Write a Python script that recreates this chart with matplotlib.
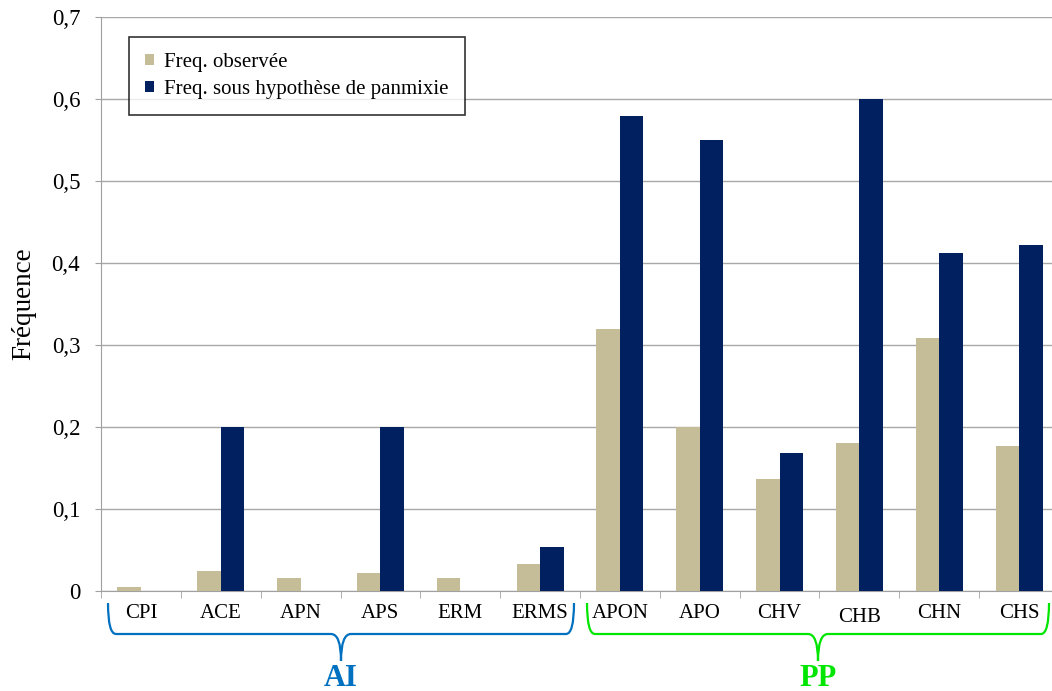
import matplotlib.pyplot as plt
import numpy as np
from matplotlib.path import Path
from matplotlib.patches import PathPatch

plt.rcParams['font.family'] = ['Liberation Serif', 'DejaVu Serif']

# donnees
categories = ["CPI", "ACE", "APN", "APS", "ERM", "ERMS",
              "APON", "APO", "CHV", "CHB", "CHN", "CHS"]
freq_obs = [0.005, 0.024, 0.016, 0.022, 0.016, 0.033,
            0.320, 0.200, 0.137, 0.180, 0.309, 0.177]
freq_panmixie = [0.0, 0.200, 0.0, 0.200, 0.0, 0.054,
                 0.579, 0.550, 0.168, 0.600, 0.412, 0.422]
y_ticks = [0, 0.1, 0.2, 0.3, 0.4, 0.5, 0.6, 0.7]
y_labels = ["0", "0,1", "0,2", "0,3", "0,4", "0,5", "0,6", "0,7"]
groups = [("AI", 0, 5, "#0070C0"), ("PP", 6, 11, "#00E600")]

W, H = 1052, 691
fig = plt.figure(figsize=(W / 100, H / 100), dpi=100)
# la zone de trace depasse a droite de l'image (comme dans l'original)
ax = fig.add_axes([101 / W, 1 - 591 / H, 958 / W, 574 / H])

x = np.arange(len(categories))
w = 0.295
ax.bar(x - w / 2, freq_obs, w, color="#C4BD97", label="Freq. observée", zorder=3)
ax.bar(x + w / 2, freq_panmixie, w, color="#002060",
       label="Freq. sous hypothèse de panmixie", zorder=3)

ax.set_xlim(-0.5, len(categories) - 0.5)
ax.set_ylim(0, 0.7)
ax.set_yticks(y_ticks)
ax.set_yticklabels(y_labels, fontsize=16.5)
ax.yaxis.grid(True, color="#A8A8A8", linewidth=1, zorder=0)
ax.set_ylabel("Fréquence", fontsize=19.5, labelpad=11)

ax.set_xticks(x)
ax.set_xticklabels(categories, fontsize=15)
ax.tick_params(axis="x", which="major", length=0, pad=9)
ax.set_xticks(np.arange(-0.5, len(categories)), minor=True)
ax.tick_params(axis="x", which="minor", length=5, color="#A0A0A0", direction="out")
ax.tick_params(axis="y", length=4, color="#A0A0A0", pad=11)
# CHB un peu plus bas dans l'original
ax.get_xticklabels()[9].set_y(-0.008)

for s in ["top", "right"]:
    ax.spines[s].set_visible(False)
ax.spines["left"].set_color("#A0A0A0")
ax.spines["bottom"].set_color("#A0A0A0")

leg = ax.legend(loc="upper left", bbox_to_anchor=(28 / 958, 1 - 20 / 574),
                borderaxespad=0, fontsize=15, frameon=True, fancybox=False,
                edgecolor="black", handlelength=0.45, handleheight=0.45,
                handletextpad=0.5, borderpad=0.75, labelspacing=0.4)
leg.get_frame().set_linewidth(1.2)


# accolades sous l'axe x
def brace(x0, x1, color):
    y_top, y_h, y_tip = 603, 634, 661
    xm = (x0 + x1) / 2
    pts = [(x0, y_top), (x0, y_h), (x0 + 8, y_h),
           (xm - 10, y_h), (xm, y_h), (xm, y_tip),
           (xm, y_h), (xm + 10, y_h),
           (x1 - 8, y_h), (x1, y_h), (x1, y_top)]
    codes = [Path.MOVETO, Path.CURVE3, Path.CURVE3,
             Path.LINETO, Path.CURVE3, Path.CURVE3,
             Path.CURVE3, Path.CURVE3,
             Path.LINETO, Path.CURVE3, Path.CURVE3]
    verts = [(px / W, 1 - py / H) for px, py in pts]
    fig.add_artist(PathPatch(Path(verts, codes), transform=fig.transFigure,
                             fill=False, edgecolor=color, linewidth=1.6))
    return xm


to_px = lambda d: ax.transData.transform((d, 0))[0]
for name, i0, i1, col in groups:
    x0 = to_px(i0 - 0.5) + 7
    x1 = min(to_px(i1 + 0.5) - 6, W - 3)
    xm = brace(x0, x1, col)
    fig.text(xm / W, 1 - 678 / H, name, color=col, fontsize=22,
             fontweight="bold", ha="center", va="center")

fig.savefig("out.png", dpi=100)
